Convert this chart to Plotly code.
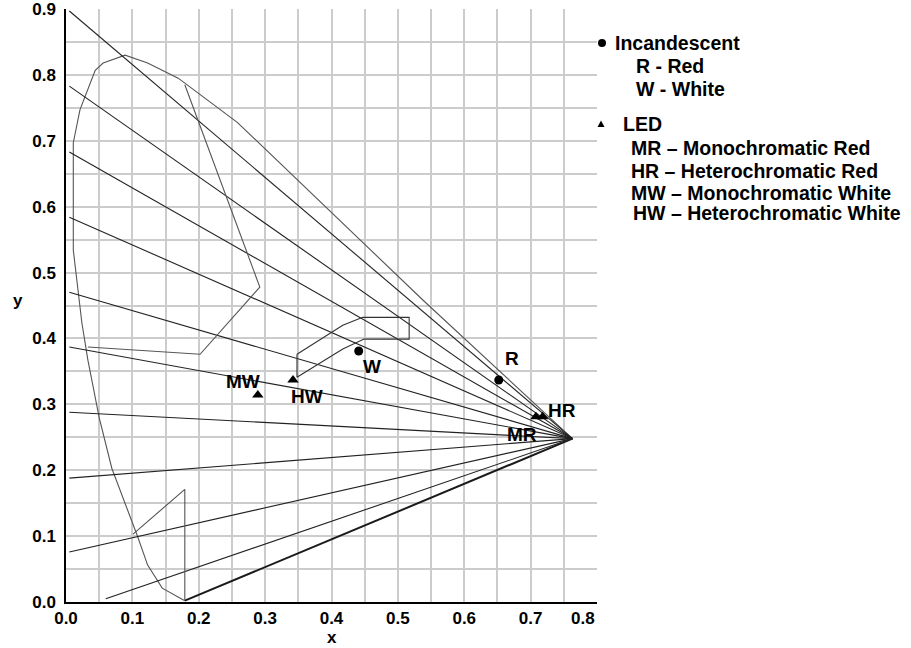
import plotly.graph_objects as go

# ---- data ----
locus_x = [0.179, 0.145, 0.123, 0.108, 0.069, 0.050, 0.033, 0.024, 0.011, 0.011, 0.011,
           0.021, 0.032, 0.044, 0.056, 0.089, 0.123, 0.169, 0.258, 0.538, 0.763]
locus_y = [0.002, 0.021, 0.056, 0.099, 0.203, 0.280, 0.367, 0.423, 0.534, 0.656, 0.697,
           0.747, 0.777, 0.807, 0.818, 0.830, 0.818, 0.795, 0.728, 0.458, 0.248]

purple_x = [0.179, 0.763]
purple_y = [0.002, 0.248]

conv_x, conv_y = 0.763, 0.248
fan_x0 = [0.005, 0.005, 0.005, 0.005, 0.005, 0.005, 0.005, 0.005, 0.005, 0.060]
fan_y0 = [0.897, 0.783, 0.683, 0.584, 0.470, 0.387, 0.288, 0.188, 0.076, 0.005]

region_a_x = [0.179, 0.292, 0.202, 0.033]
region_a_y = [0.785, 0.478, 0.376, 0.387]

region_b_x = [0.101, 0.179, 0.179]
region_b_y = [0.103, 0.171, 0.002]

white_x = [0.348, 0.417, 0.447, 0.517, 0.517, 0.449, 0.417, 0.348, 0.348]
white_y = [0.376, 0.420, 0.432, 0.432, 0.399, 0.399, 0.384, 0.341, 0.376]

inc_names = ["R", "W"]
inc_x = [0.652, 0.441]
inc_y = [0.337, 0.381]

led_names = ["MR", "HR", "MW", "HW"]
led_x = [0.708, 0.718, 0.289, 0.342]
led_y = [0.281, 0.281, 0.314, 0.337]

x_ticks = [0.0, 0.1, 0.2, 0.3, 0.4, 0.5, 0.6, 0.7, 0.8]
x_tick_text = ["0.0", "0.1", "0.2", "0.3", "0.4", "0.5", "0.6", "0.7", "0.8"]
y_ticks = [0.0, 0.1, 0.2, 0.3, 0.4, 0.5, 0.6, 0.7, 0.8, 0.9]
y_tick_text = ["0.0", "0.1", "0.2", "0.3", "0.4", "0.5", "0.6", "0.7", "0.8", "0.9"]

legend_lines = [
    ("Incandescent", 0), ("R - Red", 1), ("W - White", 1),
    ("LED", 2), ("MR \u2013 Monochromatic Red", 3), ("HR \u2013 Heterochromatic Red", 3),
    ("MW \u2013 Monochromatic White", 3), ("HW \u2013 Heterochromatic White", 4),
]

# ---- figure ----
W, H = 911, 648
ML, MR_, MT, MB = 66, 314, 9, 46
PW, PH = W - ML - MR_, H - MT - MB

def px_to_paper(px, py):
    return (px - ML) / PW, (H - MB - py) / PH

FONT = "Liberation Sans, Arial, sans-serif"
fig = go.Figure()

fig.add_trace(go.Scatter(x=locus_x, y=locus_y, mode="lines",
                         line=dict(color="#555555", width=1.1), hoverinfo="skip"))
fig.add_trace(go.Scatter(x=purple_x, y=purple_y, mode="lines",
                         line=dict(color="#1a1a1a", width=2), hoverinfo="skip"))
for x0, y0 in zip(fan_x0, fan_y0):
    fig.add_trace(go.Scatter(x=[x0, conv_x], y=[y0, conv_y], mode="lines",
                             line=dict(color="#222222", width=1.1), hoverinfo="skip"))
fig.add_trace(go.Scatter(x=region_a_x, y=region_a_y, mode="lines",
                         line=dict(color="#555555", width=1.1), hoverinfo="skip"))
fig.add_trace(go.Scatter(x=region_b_x, y=region_b_y, mode="lines",
                         line=dict(color="#555555", width=1.1), hoverinfo="skip"))
fig.add_trace(go.Scatter(x=white_x, y=white_y, mode="lines",
                         line=dict(color="#333333", width=1.1), hoverinfo="skip"))
fig.add_trace(go.Scatter(x=inc_x, y=inc_y, mode="markers",
                         marker=dict(symbol="circle", size=9, color="black"), hoverinfo="skip"))
fig.add_trace(go.Scatter(x=led_x, y=led_y, mode="markers",
                         marker=dict(symbol="triangle-up", size=10, color="black"), hoverinfo="skip"))

# point labels (pixel offsets from their points)
label_offsets = {"R": (13, 21), "W": (13, -16), "HW": (14, -17), "MW": (-15, 14),
                 "HR": (19, 6), "MR": (-14, -18)}
for name, x, y in list(zip(inc_names, inc_x, inc_y)) + list(zip(led_names, led_x, led_y)):
    dx, dy = label_offsets[name]
    fig.add_annotation(x=x, y=y, xref="x", yref="y", text=name, showarrow=False,
                       xshift=dx, yshift=dy, xanchor="center", yanchor="middle",
                       font=dict(family=FONT, size=19, color="black", weight="bold"))

# legend
legend_pos = [(613, 43), (634, 66), (634, 89), (621, 124), (629, 148), (629, 171), (629, 193), (631, 213)]
for (txt, _), (px, py) in zip(legend_lines, legend_pos):
    ax, ay = px_to_paper(px, py)
    fig.add_annotation(x=ax, y=ay, xref="paper", yref="paper", text=txt, showarrow=False,
                       xanchor="left", yanchor="middle",
                       font=dict(family=FONT, size=19.5, color="black", weight="bold"))
cx, cy = px_to_paper(602, 43)
fig.add_shape(type="circle", xref="paper", yref="paper", xsizemode="pixel", ysizemode="pixel",
              xanchor=cx, yanchor=cy, x0=-4, x1=4, y0=-4, y1=4,
              fillcolor="black", line=dict(color="black", width=0))
tx, ty = px_to_paper(601, 124)
fig.add_shape(type="path", xref="paper", yref="paper", xsizemode="pixel", ysizemode="pixel",
              xanchor=tx, yanchor=ty, path="M -3.5 -3 L 3.5 -3 L 0 3.5 Z",
              fillcolor="black", line=dict(color="black", width=0))

# axis titles
ax_, ay_ = px_to_paper(332, 637)
fig.add_annotation(x=ax_, y=ay_, xref="paper", yref="paper", text="x", showarrow=False,
                   xanchor="center", yanchor="middle",
                   font=dict(family=FONT, size=17, color="black", weight="bold"))
ax_, ay_ = px_to_paper(18, 300)
fig.add_annotation(x=ax_, y=ay_, xref="paper", yref="paper", text="y", showarrow=False,
                   xanchor="center", yanchor="middle",
                   font=dict(family=FONT, size=17, color="black", weight="bold"))

x_tick_disp = x_tick_text[:-1] + [x_tick_text[-1] + "\u00a0" * 6]

axis_common = dict(showgrid=True, gridcolor="#cccccc", gridwidth=1.5,
                   showline=True, linecolor="black", linewidth=1.5,
                   zeroline=False, ticks="", ticklabeloverflow="allow", automargin=False,
                   tickfont=dict(family=FONT, size=17, color="black", weight="bold"))
fig.update_xaxes(range=[0, 0.8], tickvals=x_ticks, ticktext=x_tick_disp,
                 minor=dict(dtick=0.05, showgrid=True, gridcolor="#cccccc", gridwidth=1.5),
                 **axis_common)
fig.update_yaxes(range=[0, 0.9], tickvals=y_ticks, ticktext=y_tick_text,
                 minor=dict(dtick=0.05, showgrid=True, gridcolor="#cccccc", gridwidth=1.5),
                 ticklabelstandoff=5, **axis_common)

fig.update_layout(width=W, height=H, margin=dict(l=ML, r=MR_, t=MT, b=MB, autoexpand=False),
                  paper_bgcolor="white", plot_bgcolor="white", showlegend=False)

fig.write_html("out.html")
